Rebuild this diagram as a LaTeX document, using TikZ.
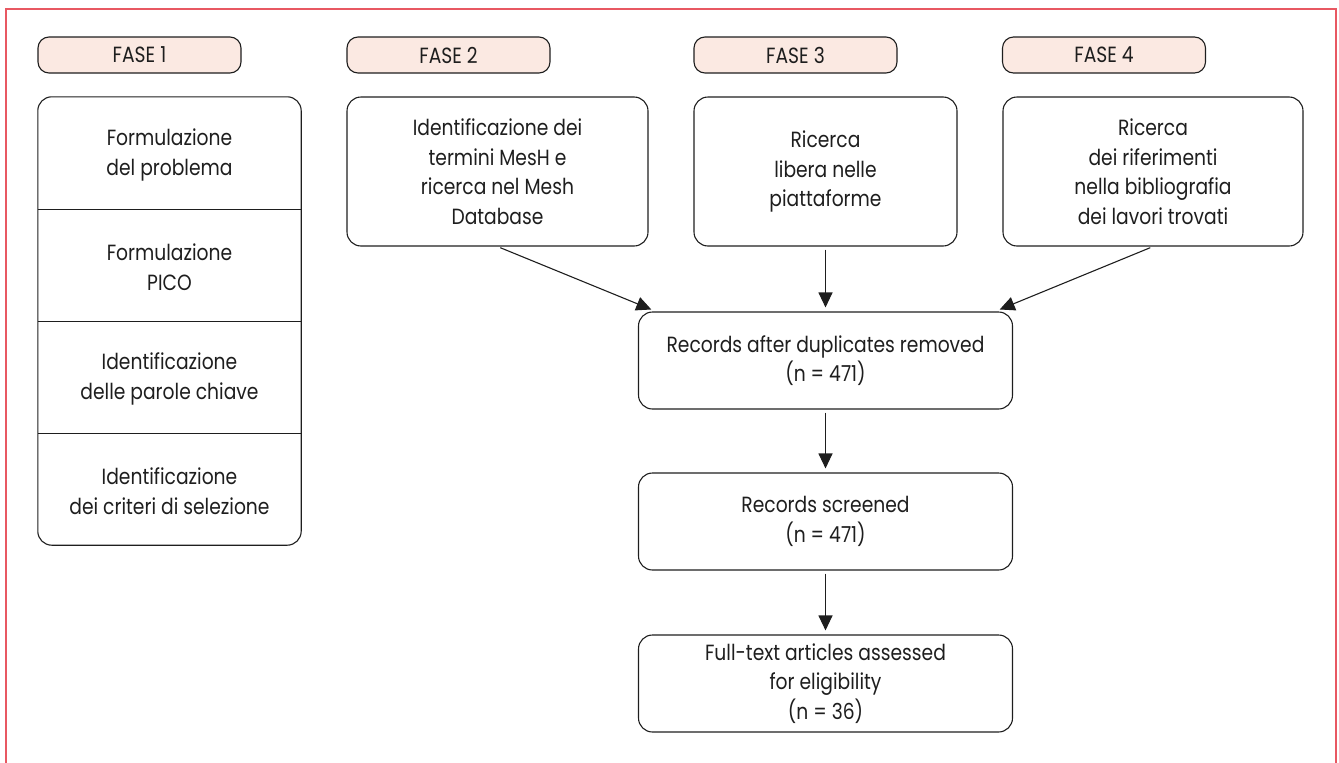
\documentclass[tikz,border=0pt]{standalone}
\usepackage{fontspec}
\setmainfont{Poppins}[FakeStretch=0.85]
\usetikzlibrary{arrows.meta}
\definecolor{framered}{RGB}{232,88,98}
\definecolor{pillfill}{RGB}{251,233,226}
\definecolor{ink}{RGB}{30,30,30}
\begin{document}
\begin{tikzpicture}[x=1pt,y=-1pt,
  txt/.style={align=center, inner sep=0pt, text=ink, font=\fontsize{22}{29.5}\selectfont},
  pillbox/.style={txt, draw=ink, line width=1.1pt, fill=pillfill, rounded corners=11pt, minimum width=203pt, minimum height=36pt},
  roundbox/.style={txt, draw=ink, line width=1.1pt, rounded corners=14pt},
  cell/.style={txt, minimum width=263pt, minimum height=112pt},
  arr/.style={draw=ink, line width=1.1pt, -{Triangle[length=15pt,width=14pt]}, shorten >=4pt}
]
\useasboundingbox (0,0) rectangle (1339,763);
% red frame (open at the bottom)
\draw[framered, line width=2pt] (6,763) -- (6,9) -- (1336,9) -- (1336,763);

% phase labels
\node[pillbox] (f1) at (139.5,55) {FASE 1};
\node[pillbox] (f2) at (448.5,55) {FASE 2};
\node[pillbox] (f3) at (795.5,55) {FASE 3};
\node[pillbox] (f4) at (1104,55) {FASE 4};

% phase 1 column
\node[cell] (c1) at (169.5,155) {Formulazione\\del problema};
\node[cell] (c2) at (169.5,267) {Formulazione\\PICO};
\node[cell] (c3) at (169.5,379) {Identificazione\\delle parole chiave};
\node[cell] (c4) at (169.5,491) {Identificazione\\dei criteri di selezione};
\draw[draw=ink, line width=1.1pt, rounded corners=14pt] ([yshift=2pt]c1.north west) rectangle ([yshift=2pt]c4.south east);
\draw[ink, line width=1.1pt] ([yshift=2pt]c1.south west) -- ([yshift=2pt]c1.south east);
\draw[ink, line width=1.1pt] ([yshift=2pt]c2.south west) -- ([yshift=2pt]c2.south east);
\draw[ink, line width=1.1pt] ([yshift=2pt]c3.south west) -- ([yshift=2pt]c3.south east);

% phases 2-4
\node[roundbox, minimum width=301pt, minimum height=149pt] (b2) at (497.5,171.5)
  {Identificazione dei\\termini MesH e\\ricerca nel Mesh\\Database};
\node[roundbox, minimum width=263pt, minimum height=149pt] (b3) at (825.5,171.5)
  {Ricerca\\libera nelle\\piattaforme};
\node[roundbox, minimum width=300pt, minimum height=149pt] (b4) at (1153,171.5)
  {Ricerca\\dei riferimenti\\nella bibliografia\\dei lavori trovati};

% flow
\node[roundbox, minimum width=374pt, minimum height=97pt] (r1) at (825.5,360.5)
  {Records after duplicates removed\\(n = 471)};
\node[roundbox, minimum width=374pt, minimum height=97pt] (r2) at (825.5,521.5)
  {Records screened\\(n = 471)};
\node[roundbox, minimum width=374pt, minimum height=97pt] (r3) at (825.5,683.5)
  {Full-text articles assessed\\for eligibility\\(n = 36)};

\coordinate (t2) at (655,311);
\coordinate (t4) at (996,311);
\draw[arr, shorten <=3pt] (b2.south) -- (t2);
\draw[arr, shorten <=3pt] (b3.south) -- (r1.north);
\draw[arr, shorten <=3pt] (b4.south) -- (t4);
\draw[arr, shorten <=3pt] (r1.south) -- (r2.north);
\draw[arr, shorten <=3pt] (r2.south) -- (r3.north);
\end{tikzpicture}
\end{document}
